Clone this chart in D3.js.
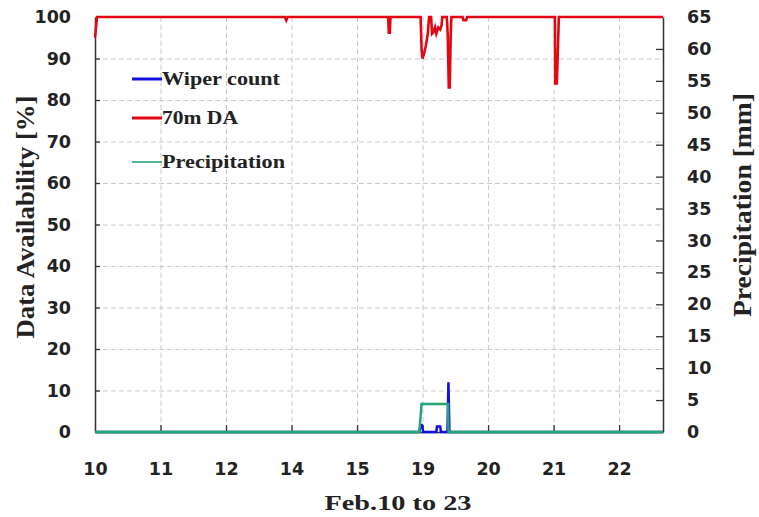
<!DOCTYPE html>
<html>
<head>
<meta charset="utf-8">
<script src="https://cdn.jsdelivr.net/npm/d3@7"></script>
<style>
  html, body { margin: 0; padding: 0; background: #fff; }
  svg { display: block; }
  .tick text { font-family: "DejaVu Sans", sans-serif; font-weight: bold; font-size: 17.5px; fill: #222; }
</style>
</head>
<body>
<svg id="chart" width="759" height="517"></svg>
<script>
// Day labels along the time axis (one tick per logged day)
const dayLabels = ["10", "11", "12", "14", "15", "19", "20", "21", "22"];
const leftTicks = [0, 10, 20, 30, 40, 50, 60, 70, 80, 90, 100];
const rightTicks = [0, 5, 10, 15, 20, 25, 30, 35, 40, 45, 50, 55, 60, 65];

// 70m data availability [%], time in day-slot units
const daTime  = [0, 0.03, 2.90, 2.92, 2.94, 4.475, 4.485, 4.50, 4.51,
                 4.97, 4.985, 5.0, 5.02, 5.05, 5.08, 5.10,
                 5.13, 5.145, 5.17, 5.19, 5.21, 5.24, 5.27, 5.29, 5.30,
                 5.37, 5.385, 5.40, 5.415, 5.43, 5.44,
                 5.61, 5.625, 5.665, 5.68,
                 7.02, 7.025, 7.05, 7.08, 8.67];
const daValue = [95, 100, 100, 99.2, 100, 100, 96.2, 96.2, 100,
                 100, 92, 90, 91, 93, 96, 100,
                 100, 96, 96.5, 97.5, 96, 97.5, 97, 98, 100,
                 100, 95.5, 83, 83, 96, 100,
                 100, 99.2, 99.2, 100,
                 100, 84, 84, 100, 100];

// Wiper count (left axis)
const wiperTime  = [0, 4.95, 4.97, 4.99, 5.01, 5.21, 5.22, 5.27, 5.28, 5.38, 5.395, 5.41, 8.67];
const wiperCount = [0, 0, 1.7, 1.7, 0, 0, 1.3, 1.3, 0, 0, 12, 0, 0];

// Precipitation [mm] (right axis)
const precipTime = [0, 4.95, 4.985, 5.39, 5.395, 8.67];
const precipMm   = [0, 0, 4.4, 4.4, 0, 0];

const svg = d3.select("#chart");
const L = 95, R = 663, T = 17, B = 432;

const x = d3.scaleLinear().domain([0, 8.67]).range([L, R]);
const yL = d3.scaleLinear().domain([0, 100]).range([B, T]);
const yR = d3.scaleLinear().domain([0, 65]).range([B, T]);

// dashed grid
const grid = svg.append("g").attr("stroke", "#c9c9c9").attr("stroke-width", 1).attr("stroke-dasharray", "5,3");
grid.selectAll("line.h").data(leftTicks.filter(v => v > 0 && v < 100)).join("line")
  .attr("x1", L).attr("x2", R).attr("y1", d => yL(d) + 0.5).attr("y2", d => yL(d) + 0.5);
grid.selectAll("line.v").data(d3.range(1, dayLabels.length)).join("line")
  .attr("x1", d => x(d) + 0.5).attr("x2", d => x(d) + 0.5).attr("y1", T).attr("y2", B);

// axes
const axisColor = "#333";
const gx = svg.append("g").attr("transform", `translate(0,${B})`)
  .call(d3.axisBottom(x).tickValues(d3.range(dayLabels.length)).tickFormat(i => dayLabels[i])
    .tickSizeInner(-7).tickSizeOuter(0).tickPadding(31));
const gl = svg.append("g").attr("transform", `translate(${L},0)`)
  .call(d3.axisLeft(yL).tickValues(leftTicks).tickSizeInner(-5).tickSizeOuter(0).tickPadding(24));
const gr = svg.append("g").attr("transform", `translate(${R},0)`)
  .call(d3.axisRight(yR).tickValues(rightTicks).tickSizeInner(-7).tickSizeOuter(0).tickPadding(24));
[gx, gl, gr].forEach(g => {
  g.select(".domain").attr("stroke", axisColor).attr("stroke-width", 1.5);
  g.selectAll(".tick line").attr("stroke", axisColor).attr("stroke-width", 1.3);
});
gl.selectAll(".tick line").filter(d => d === 0 || d === 100).remove();
gr.selectAll(".tick line").filter(d => d === 0 || d === 65).remove();
gx.selectAll(".tick line").filter(d => d === 0).remove();

// series
const clip = svg.append("clipPath").attr("id", "plot").append("rect")
  .attr("x", L - 2).attr("y", T - 3).attr("width", R - L + 3).attr("height", B - T + 6);
const plot = svg.append("g").attr("clip-path", "url(#plot)");

const lineOf = (xs, ys, yScale) => d3.line().x((d, i) => x(xs[i])).y((d, i) => yScale(ys[i]))(xs);

plot.append("path").attr("d", lineOf(daTime, daValue, yL))
  .attr("fill", "none").attr("stroke", "#e30613").attr("stroke-width", 2.6).attr("stroke-linejoin", "miter");
plot.append("path").attr("d", lineOf(wiperTime, wiperCount, yL))
  .attr("fill", "none").attr("stroke", "#1010e0").attr("stroke-width", 2.5);
plot.append("path").attr("d", lineOf(precipTime, precipMm, yR))
  .attr("fill", "none").attr("stroke", "#23a574").attr("stroke-width", 2.5);

// legend
const legend = [
  { name: "Wiper count", color: "#1010e0", w: 3, y: 79, len: 118 },
  { name: "70m DA", color: "#e30613", w: 3, y: 118, len: 76 },
  { name: "Precipitation", color: "#23a574", w: 1.6, y: 162, len: 123 }
];
const lg = svg.append("g");
legend.forEach(s => {
  lg.append("line").attr("x1", 132).attr("x2", 162).attr("y1", s.y).attr("y2", s.y)
    .attr("stroke", s.color).attr("stroke-width", s.w);
  lg.append("text").attr("x", 162).attr("y", s.y + 6)
    .attr("font-family", "'Liberation Serif', serif").attr("font-weight", "bold").attr("font-size", 18)
    .attr("fill", "#222").attr("textLength", s.len).attr("lengthAdjust", "spacingAndGlyphs").text(s.name);
});

// axis titles
svg.append("text").attr("x", 398).attr("y", 510).attr("text-anchor", "middle")
  .attr("font-family", "'Liberation Serif', serif").attr("font-weight", "bold").attr("font-size", 22)
  .attr("fill", "#222").attr("textLength", 147).attr("lengthAdjust", "spacingAndGlyphs").text("Feb.10 to 23");
svg.append("text").attr("transform", "translate(34,217) rotate(-90)").attr("text-anchor", "middle")
  .attr("font-family", "'Liberation Serif', serif").attr("font-weight", "bold").attr("font-size", 26)
  .attr("fill", "#222").attr("textLength", 243).attr("lengthAdjust", "spacingAndGlyphs").text("Data Availability [%]");
svg.append("text").attr("transform", "translate(751,205) rotate(-90)").attr("text-anchor", "middle")
  .attr("font-family", "'Liberation Serif', serif").attr("font-weight", "bold").attr("font-size", 26)
  .attr("fill", "#222").attr("textLength", 224).attr("lengthAdjust", "spacingAndGlyphs").text("Precipitation [mm]");
</script>
</body>
</html>
